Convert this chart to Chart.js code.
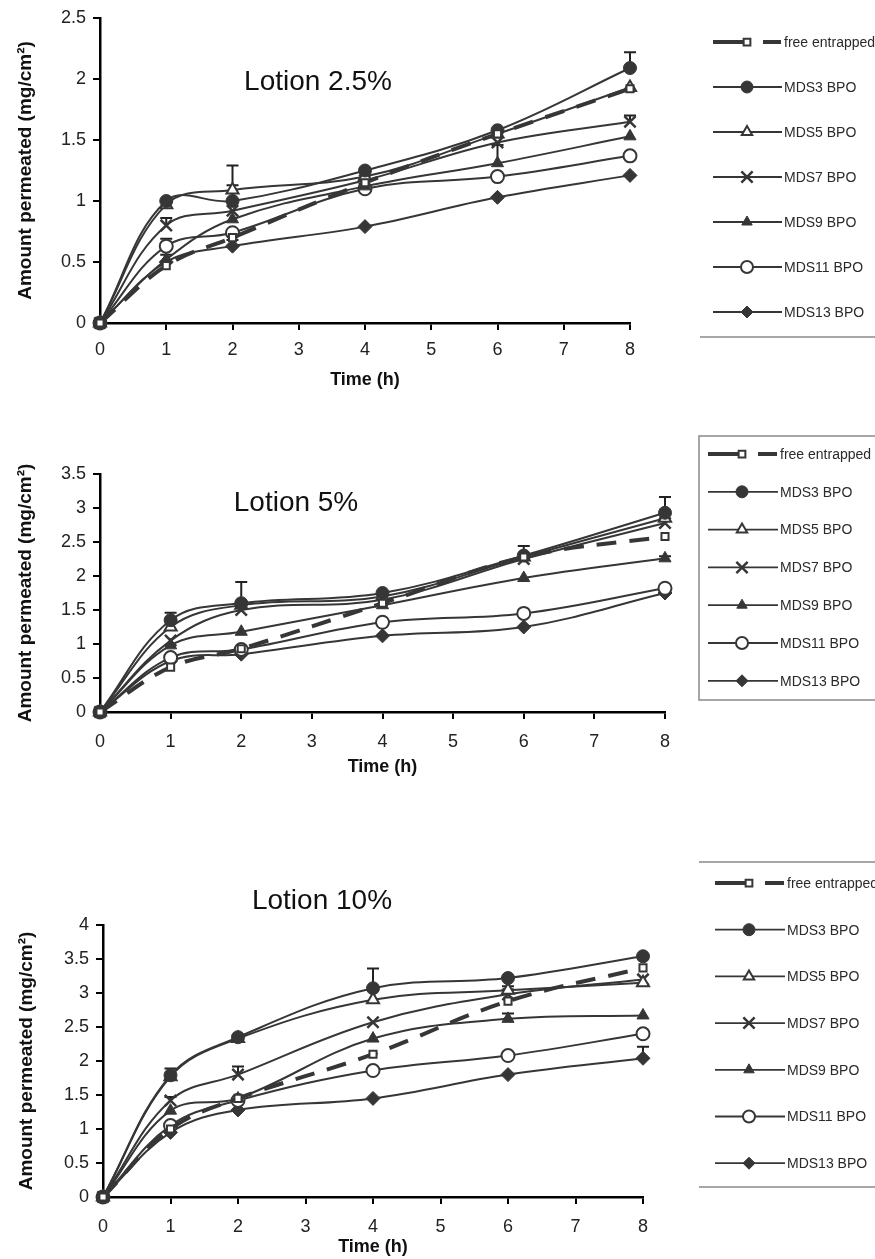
<!DOCTYPE html>
<html><head><meta charset="utf-8">
<script src="https://cdn.jsdelivr.net/npm/chart.js@4.4.1/dist/chart.umd.min.js"></script>
<style>
html,body{margin:0;padding:0;background:#fff;width:875px;height:1259px;overflow:hidden}
canvas{position:absolute;left:0}
</style></head><body>
<canvas id="c1" width="875" height="400" style="top:0px"></canvas>
<canvas id="c2" width="875" height="400" style="top:400px"></canvas>
<canvas id="c3" width="875" height="459" style="top:800px"></canvas>
<script>
// ---------- DATA ----------
const hours = [0, 1, 2, 4, 6, 8];
const seriesNames = ['free entrapped', 'MDS3 BPO', 'MDS5 BPO', 'MDS7 BPO', 'MDS9 BPO', 'MDS11 BPO', 'MDS13 BPO'];
const panelTitles = ['Lotion 2.5%', 'Lotion 5%', 'Lotion 10%'];
const yMaxima = [2.5, 3.5, 4];
const yStep = 0.5;
const xTitle = 'Time (h)';
const yTitle = 'Amount permeated (mg/cm²)';

// Lotion 2.5%
const l25Free  = [0, 0.47, 0.70, 1.15, 1.55, 1.92];
const l25Mds3  = [0, 1.00, 1.00, 1.25, 1.58, 2.09];
const l25Mds5  = [0, 0.97, 1.09, 1.20, 1.55, 1.93];
const l25Mds7  = [0, 0.80, 0.92, 1.17, 1.48, 1.65];
const l25Mds9  = [0, 0.52, 0.85, 1.12, 1.31, 1.53];
const l25Mds11 = [0, 0.63, 0.74, 1.10, 1.20, 1.37];
const l25Mds13 = [0, 0.50, 0.63, 0.79, 1.03, 1.21];
const l25ErrMds3  = [null, null, 0.29, null, null, 0.13];
const l25ErrMds5  = [null, null, 0.04, null, null, null];
const l25ErrMds7  = [null, 0.06, null, null, null, 0.05];
const l25ErrMds9  = [null, 0.04, null, null, 0.15, null];
const l25ErrMds11 = [null, 0.06, null, null, null, null];
const l25ErrMds13 = [null, null, 0.05, null, null, null];

// Lotion 5%
const l5Free  = [0, 0.66, 0.93, 1.60, 2.28, 2.58];
const l5Mds3  = [0, 1.35, 1.60, 1.75, 2.30, 2.93];
const l5Mds5  = [0, 1.25, 1.57, 1.70, 2.28, 2.85];
const l5Mds7  = [0, 1.05, 1.50, 1.65, 2.25, 2.78];
const l5Mds9  = [0, 0.98, 1.18, 1.57, 1.97, 2.26];
const l5Mds11 = [0, 0.80, 0.92, 1.32, 1.45, 1.82];
const l5Mds13 = [0, 0.75, 0.85, 1.12, 1.25, 1.75];
const l5ErrMds3 = [null, 0.11, 0.31, null, 0.14, 0.23];
const l5ErrMds9 = [null, null, null, null, null, 0.03];

// Lotion 10%
const l10Free  = [0, 1.00, 1.45, 2.10, 2.88, 3.37];
const l10Mds3  = [0, 1.79, 2.35, 3.07, 3.22, 3.54];
const l10Mds5  = [0, 1.77, 2.33, 2.90, 3.04, 3.15];
const l10Mds7  = [0, 1.42, 1.80, 2.57, 2.98, 3.20];
const l10Mds9  = [0, 1.27, 1.45, 2.33, 2.62, 2.67];
const l10Mds11 = [0, 1.05, 1.42, 1.86, 2.08, 2.40];
const l10Mds13 = [0, 0.95, 1.28, 1.45, 1.80, 2.04];
const l10ErrMds3  = [null, 0.10, null, 0.29, null, null];
const l10ErrMds5  = [null, null, null, null, 0.06, null];
const l10ErrMds7  = [null, 0.05, 0.12, null, null, null];
const l10ErrMds9  = [null, null, null, null, 0.08, null];
const l10ErrMds13 = [null, null, null, null, null, 0.17];

// ---------- STYLES ----------
const INK = '#363636';
const FONT = '"Liberation Sans", Arial, sans-serif';
const seriesStyles = [
  {pointStyle: 'rect',     pointRadius: 5,   fill: '#fff', borderWidth: 4, dash: [20, 13], pbw: 2},
  {pointStyle: 'circle',   pointRadius: 6.5, fill: INK,    borderWidth: 2, dash: [], pbw: 1},
  {pointStyle: 'triangle', pointRadius: 7,   fill: '#fff', borderWidth: 2, dash: [], pbw: 2},
  {pointStyle: 'crossRot', pointRadius: 8,   fill: INK,    borderWidth: 2, dash: [], pbw: 2.5},
  {pointStyle: 'triangle', pointRadius: 7,   fill: INK,    borderWidth: 2, dash: [], pbw: 1},
  {pointStyle: 'circle',   pointRadius: 6.5, fill: '#fff', borderWidth: 2, dash: [], pbw: 2},
  {pointStyle: 'rectRot',  pointRadius: 7,   fill: INK,    borderWidth: 2, dash: [], pbw: 1}
];

function toPoints(arr) { return arr.map((v, i) => ({x: hours[i], y: v})); }

function makeDatasets(values, errors) {
  return values.map((vals, i) => {
    const s = seriesStyles[i];
    return {
      label: seriesNames[i],
      data: toPoints(vals),
      errorPlus: errors[i] || null,
      borderColor: INK,
      backgroundColor: INK,
      borderWidth: s.borderWidth,
      borderDash: s.dash,
      pointStyle: s.pointStyle,
      pointRadius: s.pointRadius,
      pointBackgroundColor: s.fill,
      pointBorderColor: INK,
      pointBorderWidth: s.pbw,
      tension: 0.38,
      clip: false,
      fill: false
    };
  });
}

// marker for legend
function drawMarker(ctx, style, x, y, r, fill, lw) {
  ctx.save();
  ctx.fillStyle = fill; ctx.strokeStyle = INK; ctx.lineWidth = lw; ctx.setLineDash([]);
  ctx.beginPath();
  if (style === 'circle') { ctx.arc(x, y, r, 0, Math.PI * 2); ctx.fill(); ctx.stroke(); }
  else if (style === 'rect') { ctx.rect(x - r * 0.75, y - r * 0.75, r * 1.5, r * 1.5); ctx.fill(); ctx.stroke(); }
  else if (style === 'triangle') {
    ctx.moveTo(x, y - r); ctx.lineTo(x + r * 0.866, y + r * 0.5); ctx.lineTo(x - r * 0.866, y + r * 0.5); ctx.closePath(); ctx.fill(); ctx.stroke();
  } else if (style === 'rectRot') {
    ctx.moveTo(x, y - r); ctx.lineTo(x + r, y); ctx.lineTo(x, y + r); ctx.lineTo(x - r, y); ctx.closePath(); ctx.fill(); ctx.stroke();
  } else if (style === 'crossRot') {
    const d = r * 0.75;
    ctx.moveTo(x - d, y - d); ctx.lineTo(x + d, y + d); ctx.moveTo(x + d, y - d); ctx.lineTo(x - d, y + d); ctx.stroke();
  }
  ctx.restore();
}

const decorPlugin = {
  id: 'panelDecor',
  beforeDatasetsDraw(chart, args, opts) {
    // error bars (plus direction)
    const ctx = chart.ctx, ys = chart.scales.y;
    ctx.save();
    ctx.strokeStyle = '#222'; ctx.lineWidth = 2; ctx.setLineDash([]);
    chart.data.datasets.forEach((ds, di) => {
      if (!ds.errorPlus) return;
      const meta = chart.getDatasetMeta(di);
      ds.errorPlus.forEach((e, j) => {
        if (e == null) return;
        const pt = meta.data[j];
        const top = ys.getPixelForValue(ds.data[j].y + e);
        ctx.beginPath();
        ctx.moveTo(pt.x, pt.y); ctx.lineTo(pt.x, top);
        ctx.moveTo(pt.x - 6, top); ctx.lineTo(pt.x + 6, top);
        ctx.stroke();
      });
    });
    ctx.restore();
  },
  afterDraw(chart, args, opts) {
    const ctx = chart.ctx;
    ctx.save();
    // title inside plot
    ctx.fillStyle = '#111';
    ctx.font = '28px ' + FONT;
    ctx.textAlign = 'center'; ctx.textBaseline = 'middle';
    ctx.fillText(opts.title, opts.titleX, opts.titleY);
    // legend
    const L = opts.legend;
    ctx.font = '14px ' + FONT;
    ctx.textAlign = 'left';
    chart.data.datasets.forEach((ds, i) => {
      const y = L.y0 + i * L.dy;
      const s = seriesStyles[i];
      ctx.strokeStyle = INK;
      ctx.setLineDash([]);
      if (i === 0) {
        ctx.lineWidth = 4;
        ctx.beginPath(); ctx.moveTo(L.x0, y); ctx.lineTo(L.xm - 3, y); ctx.stroke();
        ctx.beginPath(); ctx.moveTo(L.xm + 16, y); ctx.lineTo(L.x1 - 1, y); ctx.stroke();
        drawMarker(ctx, 'rect', L.xm, y, 4.5, '#fff', 2);
      } else {
        ctx.lineWidth = 1.8;
        ctx.beginPath(); ctx.moveTo(L.x0, y); ctx.lineTo(L.x1, y); ctx.stroke();
        drawMarker(ctx, s.pointStyle, L.xm, y, s.pointStyle === 'crossRot' ? 7.5 : 6, s.fill, s.pbw);
      }
      ctx.fillStyle = '#2a2a2a';
      ctx.fillText(ds.label, L.xt, y + 1);
    });
    ctx.strokeStyle = '#8a8a8a'; ctx.lineWidth = 1.5;
    (opts.rules || []).forEach(r => { ctx.beginPath(); ctx.moveTo(r.x0, r.y); ctx.lineTo(r.x1, r.y); ctx.stroke(); });
    if (opts.box) { ctx.strokeRect(opts.box.x, opts.box.y, opts.box.w, opts.box.h); }
    ctx.restore();
  }
};

function makeChart(id, datasets, yMax, g) {
  const tickFont = {family: FONT, size: 18};
  return new Chart(document.getElementById(id), {
    type: 'line',
    data: {datasets},
    plugins: [decorPlugin],
    options: {
      responsive: false, animation: false, devicePixelRatio: 1,
      layout: {padding: {left: 0, right: g.right, top: g.top, bottom: 0}},
      plugins: {legend: {display: false}, tooltip: {enabled: false}, panelDecor: g.decor},
      scales: {
        x: {
          type: 'linear', min: 0, max: 8,
          ticks: {stepSize: 1, font: tickFont, color: '#222', padding: g.xPad, maxRotation: 0},
          grid: {drawOnChartArea: false, drawTicks: true, tickLength: 7, color: '#000', lineWidth: 2},
          border: {display: true, color: '#000', width: 2.5},
          title: {display: true, text: xTitle, color: '#111', font: {family: FONT, size: 18, weight: 'bold'}, padding: {top: 0, bottom: g.xTitlePad}},
          afterFit: s => { s.height = g.xH; }
        },
        y: {
          type: 'linear', min: 0, max: yMax,
          ticks: {stepSize: yStep, font: tickFont, color: '#222', padding: 7, callback: v => String(+v.toFixed(1))},
          grid: {drawOnChartArea: false, drawTicks: true, tickLength: 7, color: '#000', lineWidth: 2},
          border: {display: true, color: '#000', width: 2.5},
          title: {display: true, text: yTitle, color: '#111', font: {family: FONT, size: 19, weight: 'bold'}, padding: {top: g.yTitlePad, bottom: 0}},
          afterFit: s => { s.width = g.yW; }
        }
      }
    }
  });
}

makeChart('c1',
  makeDatasets([l25Free, l25Mds3, l25Mds5, l25Mds7, l25Mds9, l25Mds11, l25Mds13],
               [null, l25ErrMds3, l25ErrMds5, l25ErrMds7, l25ErrMds9, l25ErrMds11, l25ErrMds13]),
  yMaxima[0],
  {right: 245, top: 18, xH: 77, yW: 100, xPad: 9, xTitlePad: 9, yTitlePad: 14,
   decor: {title: panelTitles[0], titleX: 318, titleY: 82,
     legend: {y0: 42, dy: 45, x0: 713, xm: 747, x1: 782, xt: 784},
     rules: [{y: 337, x0: 700, x1: 875}]}});

makeChart('c2',
  makeDatasets([l5Free, l5Mds3, l5Mds5, l5Mds7, l5Mds9, l5Mds11, l5Mds13],
               [null, l5ErrMds3, null, null, l5ErrMds9, null, null]),
  yMaxima[1],
  {right: 210, top: 74, xH: 88, yW: 100, xPad: 12, xTitlePad: 22, yTitlePad: 14,
   decor: {title: panelTitles[1], titleX: 296, titleY: 103,
     legend: {y0: 54, dy: 37.8, x0: 708, xm: 742, x1: 778, xt: 780},
     box: {x: 699, y: 36, w: 180, h: 264}}});

makeChart('c3',
  makeDatasets([l10Free, l10Mds3, l10Mds5, l10Mds7, l10Mds9, l10Mds11, l10Mds13],
               [null, l10ErrMds3, l10ErrMds5, l10ErrMds7, l10ErrMds9, null, l10ErrMds13]),
  yMaxima[2],
  {right: 232, top: 125, xH: 62, yW: 103, xPad: 12, xTitlePad: 1, yTitlePad: 15,
   decor: {title: panelTitles[2], titleX: 322, titleY: 101,
     legend: {y0: 83, dy: 46.7, x0: 715, xm: 749, x1: 785, xt: 787},
     rules: [{y: 62, x0: 699, x1: 875}, {y: 387, x0: 699, x1: 875}]}});
</script>
</body></html>
